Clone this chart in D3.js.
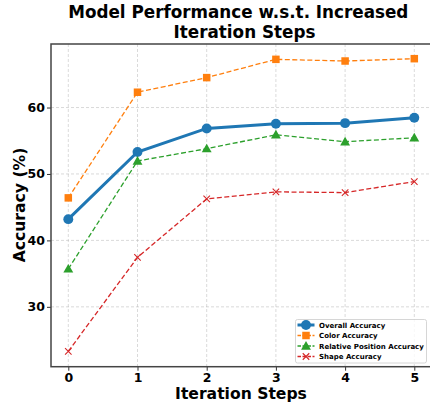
<!DOCTYPE html>
<html><head><meta charset="utf-8">
<script src="https://cdn.jsdelivr.net/npm/d3@7"></script>
<style>body{margin:0;background:#fff}svg{display:block;font-family:"DejaVu Sans",sans-serif}</style>
</head><body><svg id="c" width="430" height="405"></svg>
<script>
const steps = [0, 1, 2, 3, 4, 5];
const overall = [43.2, 53.3, 56.85, 57.55, 57.65, 58.45];
const color = [46.4, 62.3, 64.5, 67.25, 67.0, 67.35];
const relpos = [35.7, 51.95, 53.8, 55.9, 54.85, 55.45];
const shape = [23.3, 37.45, 46.25, 47.3, 47.2, 48.85];
const yTicks = [30, 40, 50, 60];
const seriesNames = ["Overall Accuracy", "Color Accuracy", "Relative Position Accuracy", "Shape Accuracy"];

const series = [
  {name: seriesNames[0], values: overall, color: "#1f77b4", marker: "circle", width: 3, dash: null},
  {name: seriesNames[1], values: color, color: "#ff7f0e", marker: "square", width: 1.3, dash: "5,2.5"},
  {name: seriesNames[2], values: relpos, color: "#2ca02c", marker: "triangle", width: 1.3, dash: "5,2.5"},
  {name: seriesNames[3], values: shape, color: "#d62728", marker: "x", width: 1.3, dash: "5,2.5"}
];

const svg = d3.select("#c");
const L = 51, R = 431.6, T = 44, B = 366.7;
const x = d3.scaleLinear().domain([-0.25, 5.25]).range([L, R]);
const y = d3.scaleLinear().domain([20.99, 69.56]).range([B, T]);

// grid
const g = svg.append("g");
g.selectAll(".gx").data(steps).enter().append("line")
  .attr("x1", d => x(d)).attr("x2", d => x(d)).attr("y1", T).attr("y2", B)
  .attr("stroke", "#b0b0b0").attr("stroke-opacity", 0.6).attr("stroke-width", 0.8).attr("stroke-dasharray", "3,2");
g.selectAll(".gy").data(yTicks).enter().append("line")
  .attr("y1", d => y(d)).attr("y2", d => y(d)).attr("x1", L).attr("x2", R)
  .attr("stroke", "#b0b0b0").attr("stroke-opacity", 0.6).attr("stroke-width", 0.8).attr("stroke-dasharray", "3,2");

// axes
const xa = svg.append("g").attr("transform", `translate(0,${B})`)
  .call(d3.axisBottom(x).tickValues(steps).tickFormat(d3.format("d")).tickSize(4).tickPadding(2.1));
const ya = svg.append("g").attr("transform", `translate(${L},0)`)
  .call(d3.axisLeft(y).tickValues(yTicks).tickSize(4).tickPadding(2));
[xa, ya].forEach(a => {
  a.select(".domain").remove();
  a.selectAll("line").attr("stroke", "#333").attr("stroke-width", 1);
  a.selectAll("text").attr("font-size", 12.5).attr("font-weight", "bold").attr("fill", "#000")
   .attr("font-family", "DejaVu Sans");
});

// frame
svg.append("rect").attr("x", L).attr("y", T).attr("width", R - L).attr("height", B - T)
  .attr("fill", "none").attr("stroke", "#444").attr("stroke-width", 1.5);

// lines
const line = d3.line().x((d, i) => x(steps[i])).y(d => y(d));
function drawMarker(sel, m, c, cx, cy, s) {
  if (m === "circle") sel.append("circle").attr("cx", cx).attr("cy", cy).attr("r", s * 0.62).attr("fill", c);
  else if (m === "square") sel.append("rect").attr("x", cx - s * 0.5).attr("y", cy - s * 0.5).attr("width", s).attr("height", s).attr("fill", c);
  else if (m === "triangle") sel.append("path").attr("d", d3.symbol(d3.symbolTriangle, s * s * 0.75)()).attr("transform", `translate(${cx},${cy + 0.8})`).attr("fill", c);
  else sel.append("path").attr("d", `M${cx - s / 2},${cy - s / 2}L${cx + s / 2},${cy + s / 2}M${cx - s / 2},${cy + s / 2}L${cx + s / 2},${cy - s / 2}`).attr("stroke", c).attr("stroke-width", 1.1).attr("fill", "none");
}
series.forEach(s => {
  svg.append("path").datum(s.values).attr("d", line).attr("fill", "none")
    .attr("stroke", s.color).attr("stroke-width", s.width).attr("stroke-dasharray", s.dash);
  const mg = svg.append("g");
  s.values.forEach((v, i) => drawMarker(mg, s.marker, s.color, x(steps[i]), y(v), s.marker === "circle" ? 8 : (s.marker === "x" ? 6.5 : 7.5)));
});

// legend
const lg = svg.append("g");
lg.append("rect").attr("x", 295.5).attr("y", 319.5).attr("width", 131).attr("height", 43.5)
  .attr("fill", "#fff").attr("fill-opacity", 0.8).attr("stroke", "#ccc").attr("stroke-width", 0.8).attr("rx", 2);
series.forEach((s, i) => {
  const yy = 325 + i * 10.5;
  lg.append("line").attr("x1", 297.5).attr("x2", 314.5).attr("y1", yy).attr("y2", yy)
    .attr("stroke", s.color).attr("stroke-width", s.width).attr("stroke-dasharray", s.dash ? "3.5,1.5" : null);
  drawMarker(lg, s.marker, s.color, 306, yy, s.marker === "circle" ? 8 : (s.marker === "x" ? 6.5 : 7.5));
  lg.append("text").attr("x", 319).attr("y", yy + 2.6).attr("font-size", 7).attr("font-weight", "bold").text(s.name);
});

// titles
svg.append("text").attr("x", 238.3).attr("y", 18.3).attr("text-anchor", "middle").attr("font-size", 16.8).attr("font-weight", "bold").text("Model Performance w.s.t. Increased");
svg.append("text").attr("x", 244.5).attr("y", 38.2).attr("text-anchor", "middle").attr("font-size", 16.8).attr("font-weight", "bold").text("Iteration Steps");
svg.append("text").attr("x", 241).attr("y", 399).attr("text-anchor", "middle").attr("font-size", 15.6).attr("font-weight", "bold").text("Iteration Steps");
svg.append("text").attr("transform", "translate(25,205) rotate(-90)").attr("text-anchor", "middle").attr("font-size", 15.6).attr("font-weight", "bold").text("Accuracy (%)");
</script></body></html>
